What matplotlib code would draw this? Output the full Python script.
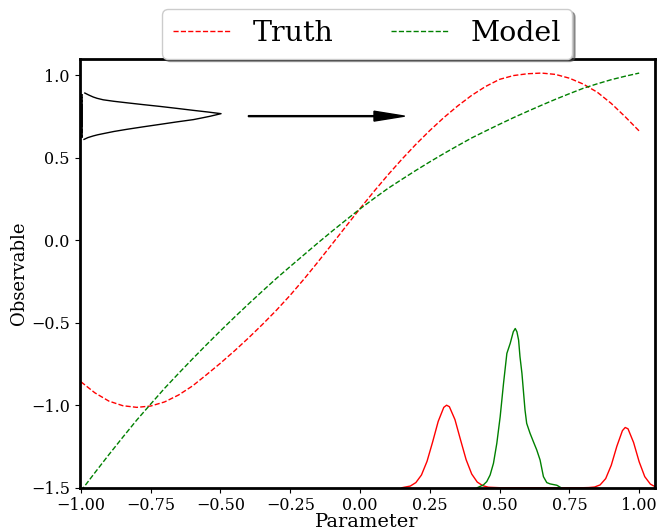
import numpy as np
import matplotlib
matplotlib.use('Agg')
import matplotlib.pyplot as plt

plt.rcParams['font.family'] = 'serif'

# parameter grid and the two response curves
param = [-1.0, -0.95, -0.9, -0.85, -0.8, -0.75, -0.7, -0.65, -0.6, -0.55, -0.5,
         -0.45, -0.4, -0.35, -0.3, -0.25, -0.2, -0.15, -0.1, -0.05, 0.0,
         0.05, 0.1, 0.15, 0.2, 0.25, 0.3, 0.35, 0.4, 0.45, 0.5,
         0.55, 0.6, 0.65, 0.7, 0.75, 0.8, 0.85, 0.9, 0.95, 1.0]
truth = [-0.858, -0.925, -0.975, -1.003, -1.013, -1.005, -0.980, -0.938, -0.883, -0.815, -0.745,
         -0.671, -0.593, -0.511, -0.425, -0.333, -0.234, -0.130, -0.023, 0.085, 0.192,
         0.296, 0.396, 0.491, 0.581, 0.665, 0.743, 0.814, 0.878, 0.932, 0.975,
         0.998, 1.009, 1.013, 1.005, 0.982, 0.946, 0.897, 0.829, 0.748, 0.662]
model = [-1.52, -1.409, -1.30, -1.194, -1.09, -0.993, -0.897, -0.807, -0.719, -0.633, -0.549,
         -0.467, -0.387, -0.309, -0.232, -0.159, -0.087, -0.015, 0.055, 0.123, 0.19,
         0.253, 0.314, 0.369, 0.423, 0.475, 0.525, 0.573, 0.62, 0.662, 0.703,
         0.743, 0.781, 0.818, 0.854, 0.888, 0.921, 0.948, 0.973, 0.994, 1.013]

# observed distribution (sideways density on the left)
obs_y = [0.611, 0.622, 0.632, 0.639, 0.646, 0.659, 0.672, 0.687, 0.702, 0.717, 0.731,
         0.741, 0.751, 0.759, 0.767, 0.777, 0.787, 0.799, 0.811, 0.822, 0.833,
         0.842, 0.851, 0.860, 0.868, 0.880, 0.892]
obs_dens = [0.011, 0.025, 0.044, 0.060, 0.080, 0.118, 0.164, 0.222, 0.283, 0.343, 0.403,
            0.433, 0.462, 0.482, 0.502, 0.455, 0.403, 0.344, 0.283, 0.222, 0.164,
            0.118, 0.080, 0.058, 0.044, 0.028, 0.014]
obs_samples = [0.625, 0.632, 0.64, 0.648, 0.655, 0.662, 0.67, 0.677, 0.685, 0.692, 0.70,
               0.706, 0.712, 0.718, 0.724, 0.73, 0.736, 0.742, 0.748, 0.754, 0.76, 0.765,
               0.77, 0.776, 0.782, 0.788, 0.794, 0.80, 0.807, 0.814, 0.821, 0.828, 0.836,
               0.844, 0.852, 0.86, 0.869, 0.878]

# inferred parameter densities (bottom)
truth_kde_x = [0.15, 0.18, 0.20, 0.22, 0.24, 0.26, 0.28, 0.30, 0.31, 0.32, 0.34, 0.36,
               0.38, 0.40, 0.42, 0.44, 0.46, 0.50, 0.60, 0.70, 0.80, 0.82, 0.84, 0.86,
               0.88, 0.90, 0.92, 0.94, 0.95, 0.96, 0.98, 1.00, 1.02, 1.04, 1.055]
truth_kde = [0.0, 0.010, 0.031, 0.077, 0.160, 0.277, 0.402, 0.487, 0.500, 0.491, 0.413, 0.290,
             0.170, 0.083, 0.034, 0.012, 0.003, 0.0, 0.0, 0.0, 0.0, 0.001, 0.004, 0.017,
             0.055, 0.136, 0.251, 0.346, 0.365, 0.357, 0.274, 0.157, 0.067, 0.022, 0.008]
model_kde_x = [0.42, 0.442, 0.454, 0.466, 0.478, 0.490, 0.502, 0.514, 0.526, 0.538, 0.549,
               0.556, 0.562, 0.568, 0.573, 0.580, 0.585, 0.591, 0.597, 0.609, 0.621, 0.633,
               0.645, 0.657, 0.669, 0.681, 0.705, 0.72]
model_kde = [0.0, 0.017, 0.037, 0.077, 0.148, 0.269, 0.430, 0.632, 0.814, 0.875, 0.945,
             0.965, 0.945, 0.895, 0.794, 0.693, 0.592, 0.471, 0.390, 0.330, 0.279, 0.229,
             0.168, 0.067, 0.031, 0.023, 0.015, 0.0]

ymin, ymax = -1.5, 1.1
xmin, xmax = -1.005, 1.055

fig = plt.figure(figsize=(6.6, 5.3), dpi=100)
ax = fig.add_axes([0.1205, 0.0798, 0.8712, 0.8094])

ax.plot(param, truth, 'r--', lw=1, label='Truth')
ax.plot(param, model, 'g--', lw=1, label='Model')

base = ymin
ax.plot(truth_kde_x, base + np.array(truth_kde), 'r-', lw=1)
ax.plot(model_kde_x, base + np.array(model_kde), 'g-', lw=1)

ax.plot(-1.0 + np.array(obs_dens), obs_y, 'k-', lw=1)
ax.hlines(obs_samples, -1.006, -0.994, colors='k', lw=1.2)

ax.arrow(-0.4, 0.752, 0.45, 0, width=0.006, head_width=0.06, head_length=0.11,
         fc='k', ec='k')

ax.set_xlim(xmin, xmax)
ax.set_ylim(ymin, ymax)
ax.set_xticks([-1.0, -0.75, -0.5, -0.25, 0.0, 0.25, 0.5, 0.75, 1.0])
ax.set_yticks([-1.5, -1.0, -0.5, 0.0, 0.5, 1.0])
ax.tick_params(labelsize=11.5)
for s in ax.spines.values():
    s.set_linewidth(2)

ax.set_xlabel('Parameter', fontsize=14, labelpad=-1)
ax.set_ylabel('Observable', fontsize=13, labelpad=2)

ax.legend(loc='lower center', bbox_to_anchor=(0.5, 1.0), borderaxespad=0,
          ncol=2, fontsize=20.5, shadow=True)

fig.savefig('out.png', dpi=100)
